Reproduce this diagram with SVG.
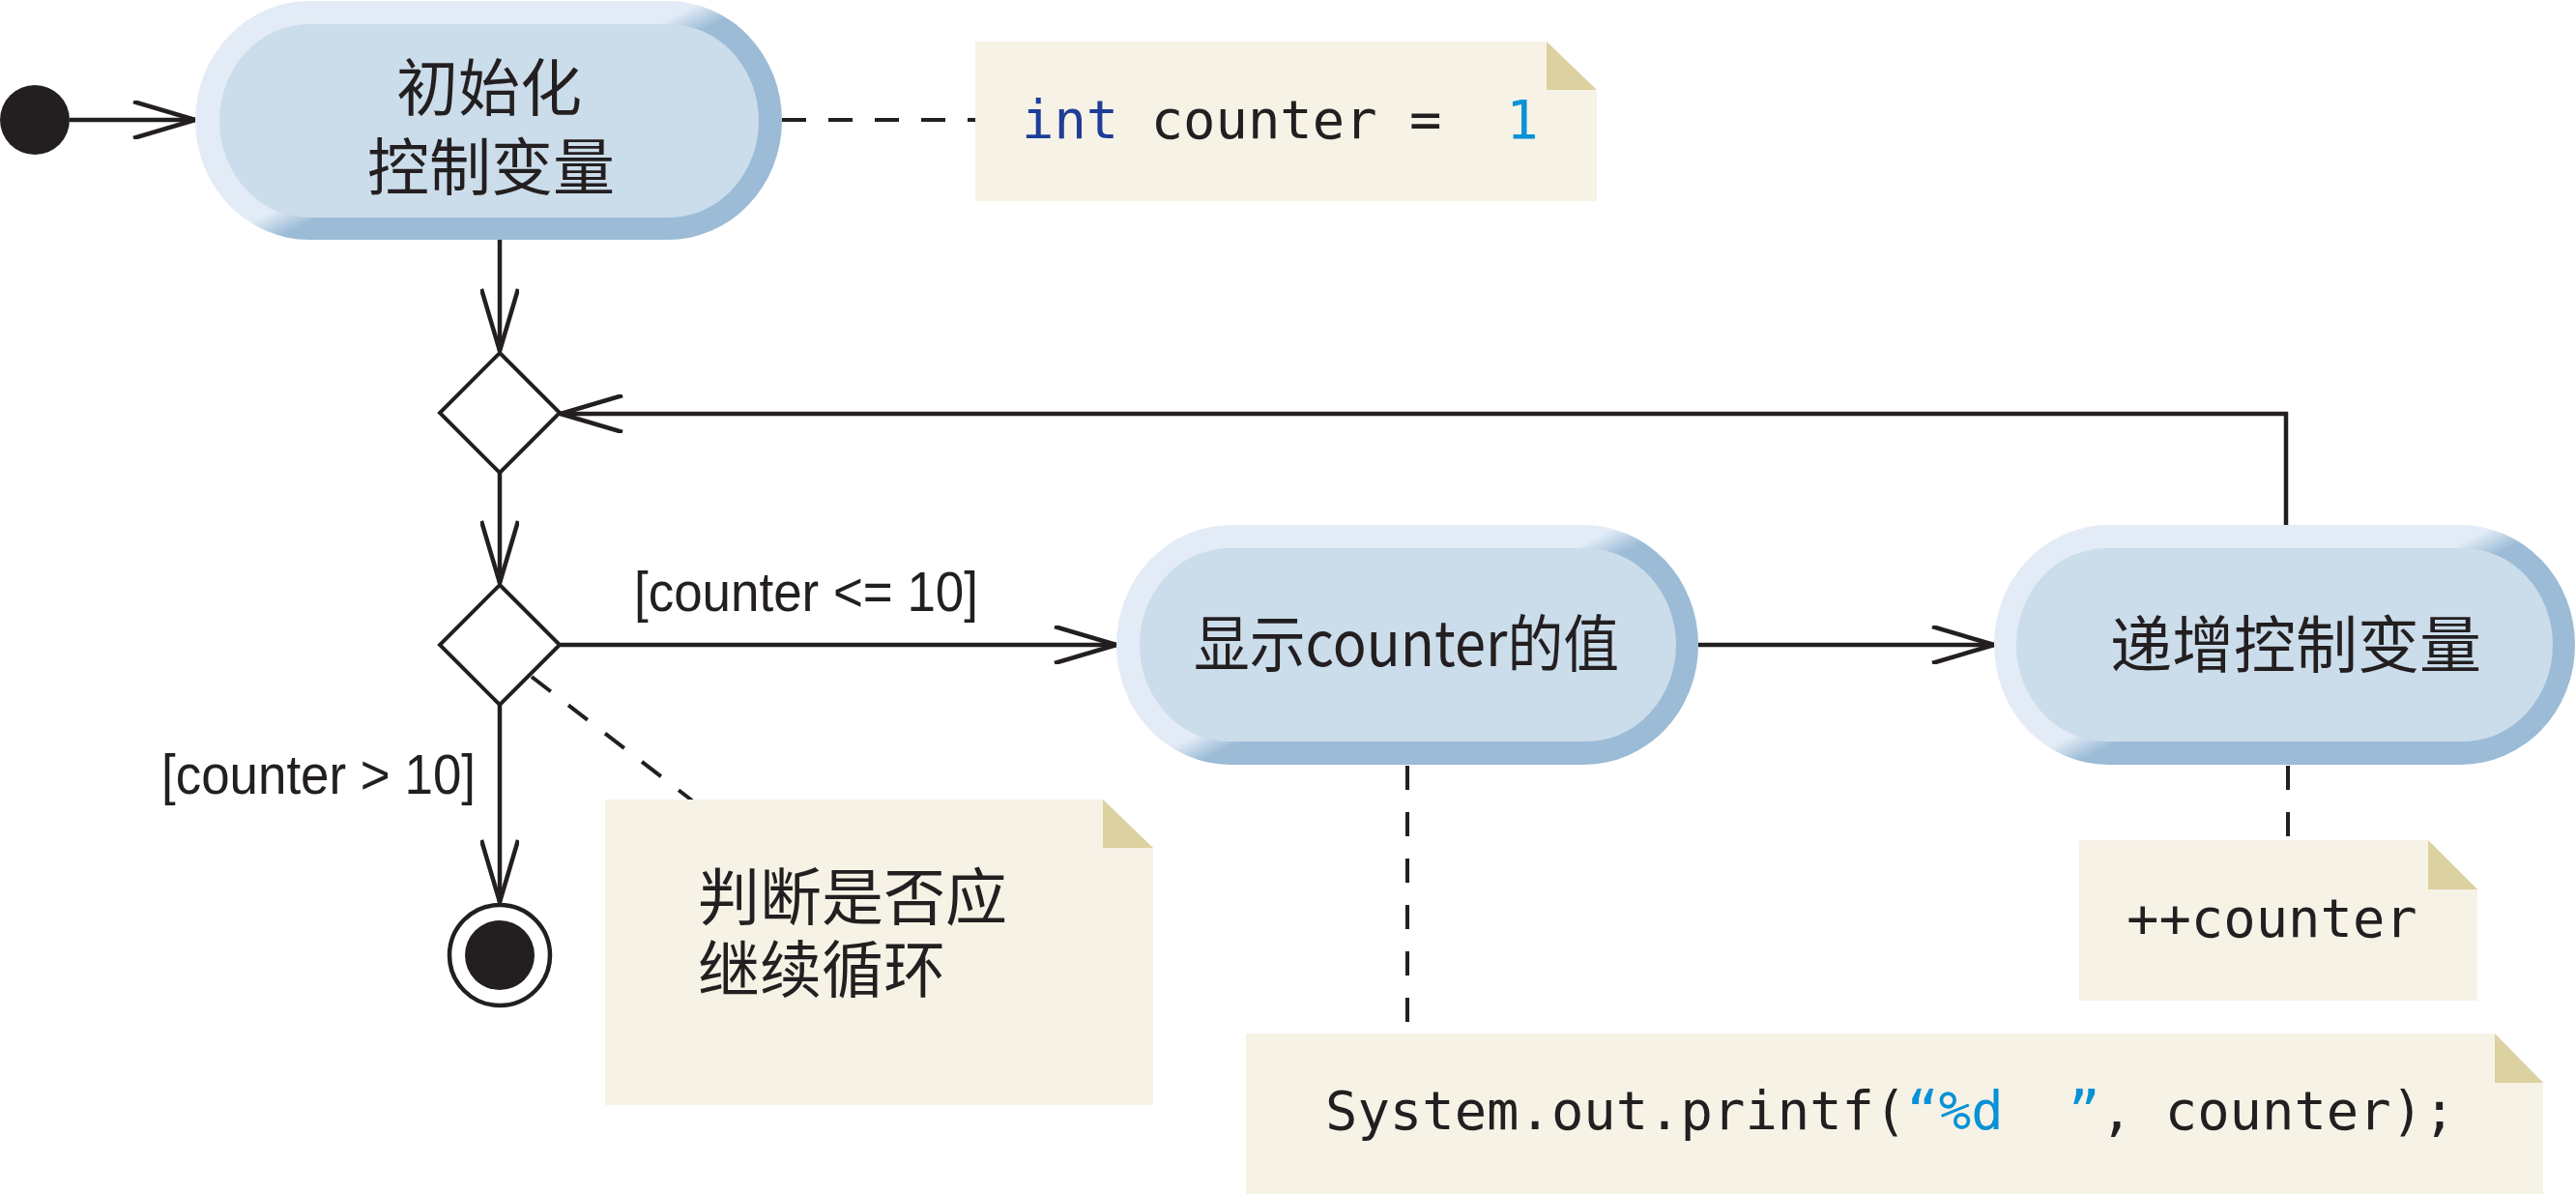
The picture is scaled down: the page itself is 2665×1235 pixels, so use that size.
<svg xmlns="http://www.w3.org/2000/svg" width="2665" height="1235" viewBox="0 0 2665 1235">
<defs>
  <linearGradient id="bevel" x1="0" y1="0.083" x2="1" y2="0.917">
    <stop offset="0" stop-color="#e3ecf6"/>
    <stop offset="0.47" stop-color="#e3ecf6"/>
    <stop offset="0.53" stop-color="#9bbbd6"/>
    <stop offset="1" stop-color="#9bbbd6"/>
  </linearGradient>
  <marker id="open" viewBox="0 0 70 40" markerWidth="70" markerHeight="40" refX="66" refY="20" orient="auto" markerUnits="userSpaceOnUse">
    <path d="M2,1 L66,20 L2,39" fill="none" stroke="#231f20" stroke-width="4.5"/>
  </marker>
</defs>
<style>
  .outer { fill: url(#bevel); }
  .inner { fill: #cbdcea; }
  .cjk { font-family: "Noto Sans CJK SC", "Noto Sans", sans-serif; font-size: 64px; fill: #231f20; }
  .mono { font-family: "DejaVu Sans Mono", "Liberation Mono", monospace; font-size: 55.5px; fill: #231f20; }
  .guard { font-family: "Liberation Sans", Arial, sans-serif; font-size: 57px; fill: #231f20; }
  .kw { fill: #1e3d99; }
  .lit { fill: #0a92d6; }
  .note { fill: #f6f2e6; }
  .fold { fill: #dcd1a0; }
  .line { fill: none; stroke: #231f20; stroke-width: 4.5; }
  .dash { fill: none; stroke: #231f20; stroke-width: 4; stroke-dasharray: 25 23; }
  .diamond { fill: #ffffff; stroke: #231f20; stroke-width: 4; }
</style>

<g id="connectors">
  <path class="line" d="M72,124 L202,124" marker-end="url(#open)"/>
  <path class="line" d="M517,248 L517,363" marker-end="url(#open)"/>
  <path class="line" d="M517,488 L517,603" marker-end="url(#open)"/>
  <path class="line" d="M580,667 L1155,667" marker-end="url(#open)"/>
  <path class="line" d="M1757,667 L2063,667" marker-end="url(#open)"/>
  <path class="line" d="M2365,543 L2365,428 L580,428" marker-end="url(#open)"/>
  <path class="line" d="M517,728 L517,933" marker-end="url(#open)"/>
  <path class="dash" d="M809,124 L1009,124"/>
  <path class="dash" d="M550,700 L716,828"/>
  <path class="dash" d="M1456,792 L1456,1069"/>
  <path class="dash" d="M2367,792 L2367,869"/>
  <text class="guard" x="656" y="632" textLength="356" lengthAdjust="spacingAndGlyphs">[counter &lt;= 10]</text>
  <text class="guard" x="167" y="821" textLength="325" lengthAdjust="spacingAndGlyphs">[counter &gt; 10]</text>
</g>

<g id="start">
  <circle cx="36" cy="124" r="36" fill="#231f20"/>
</g>

<g id="init">
  <rect class="outer" x="202" y="1" width="607" height="247" rx="118" ry="123.5"/>
  <rect class="inner" x="227" y="25" width="558" height="200" rx="93" ry="100"/>
  <text class="cjk" text-anchor="middle"><tspan x="506" y="114">初始化</tspan><tspan x="508" y="196">控制变量</tspan></text>
</g>

<g id="merge">
  <polygon class="diamond" points="517,365 579,427 517,489 455,427"/>
</g>

<g id="decision">
  <polygon class="diamond" points="517,605 579,667 517,729 455,667"/>
</g>

<g id="display">
  <rect class="outer" x="1155" y="543" width="602" height="248" rx="118" ry="124"/>
  <rect class="inner" x="1179" y="567" width="555" height="200" rx="93" ry="100"/>
  <text class="cjk" x="1455" y="689" text-anchor="middle" textLength="440" lengthAdjust="spacingAndGlyphs">显示counter的值</text>
</g>

<g id="increment">
  <rect class="outer" x="2063" y="543" width="601" height="248" rx="118" ry="124"/>
  <rect class="inner" x="2086" y="567" width="555" height="200" rx="93" ry="100"/>
  <text class="cjk" x="2375" y="690" text-anchor="middle">递增控制变量</text>
</g>

<g id="final">
  <circle cx="517" cy="988" r="52" fill="#ffffff" stroke="#231f20" stroke-width="4.5"/>
  <circle cx="517" cy="988" r="36" fill="#231f20"/>
</g>

<g id="note-init">
  <polygon class="note" points="1009,43 1600,43 1652,93 1652,208 1009,208"/>
  <polygon class="fold" points="1600,43 1652,93 1600,93"/>
  <text class="mono" x="1057" y="143" xml:space="preserve"><tspan class="kw">int</tspan> counter =  <tspan class="lit">1</tspan></text>
</g>

<g id="note-decision">
  <polygon class="note" points="626,827 1141,827 1193,877 1193,1143 626,1143"/>
  <polygon class="fold" points="1141,827 1193,877 1141,877"/>
  <text class="cjk"><tspan x="722" y="951">判断是否应</tspan><tspan x="722" y="1026">继续循环</tspan></text>
</g>

<g id="note-increment">
  <polygon class="note" points="2151,869 2512,869 2563,920 2563,1035 2151,1035"/>
  <polygon class="fold" points="2512,869 2563,920 2512,920"/>
  <text class="mono" x="2200" y="969">++counter</text>
</g>

<g id="note-display">
  <polygon class="note" points="1289,1069 2581,1069 2631,1120 2631,1235 1289,1235"/>
  <polygon class="fold" points="2581,1069 2631,1120 2581,1120"/>
  <text class="mono" x="1371" y="1168" xml:space="preserve">System.out.printf(<tspan class="lit">“%d  ”</tspan>, counter);</text>
</g>
</svg>
